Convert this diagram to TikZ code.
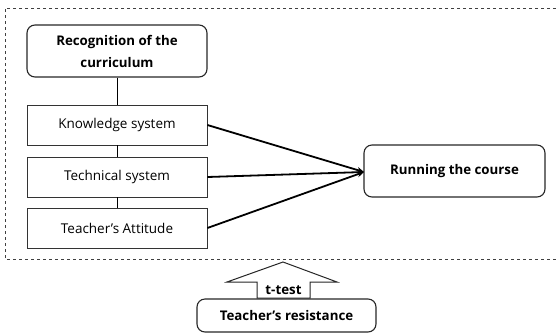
\documentclass[tikz,border=0pt]{standalone}
\usepackage{fontspec}
\setmainfont{Open Sans}
\usetikzlibrary{arrows.meta}
\newcommand{\apos}{\char"27{}}
\begin{document}
\begin{tikzpicture}[x=1pt,y=-1pt,
  sqbox/.style={draw=black!80,line width=0.8pt,minimum width=180pt,minimum height=40pt,inner sep=0pt,font=\fontsize{13.5}{15}\selectfont},
  rbox/.style={draw=black!85,line width=1.1pt,rounded corners=8pt,inner sep=0pt,font=\bfseries\fontsize{13.3}{22}\selectfont,align=center},
  conn/.style={line width=1.8pt,-{Stealth[length=7pt,width=6pt]}}
]
\useasboundingbox (0,0) rectangle (556,333);
\draw[dashed,line width=0.6pt,black!75] (556,8) -- (5,8) -- (5,259) -- (556,259);
\node[rbox,minimum width=180pt,minimum height=52pt] (rec) at (117,51) {Recognition of the\\curriculum};
\node[sqbox] (know) at (117,125) {Knowledge system};
\node[sqbox] (tech) at (117,177) {Technical system};
\node[sqbox] (att) at (117,228) {Teacher\apos s Attitude};
\node[rbox,minimum width=181pt,minimum height=52pt] (run) at (454.5,171) {Running the course};
\node[rbox,minimum width=179pt,minimum height=33pt] (res) at (286.5,315.5) {Teacher\apos s resistance};
\draw[line width=1pt] (rec.south) -- (know.north);
\draw[line width=1pt] (know.south) -- (tech.north);
\draw[line width=1pt] (tech.south) -- (att.north);
\coordinate (tip) at (364,172);
\draw[conn] (know.east) -- (tip);
\draw[conn] (tech.east) -- (tip);
\draw[conn] (att.east) -- (tip);
\draw[line width=1pt,black!85,fill=white] (283,262) -- (337,282) -- (310,282) -- (310,298) -- (257,298) -- (257,282) -- (227,282) -- cycle;
\node[font=\bfseries\fontsize{13.3}{15}\selectfont,inner sep=0pt] (tt) at (283.5,290) {t-test};
\end{tikzpicture}
\end{document}
